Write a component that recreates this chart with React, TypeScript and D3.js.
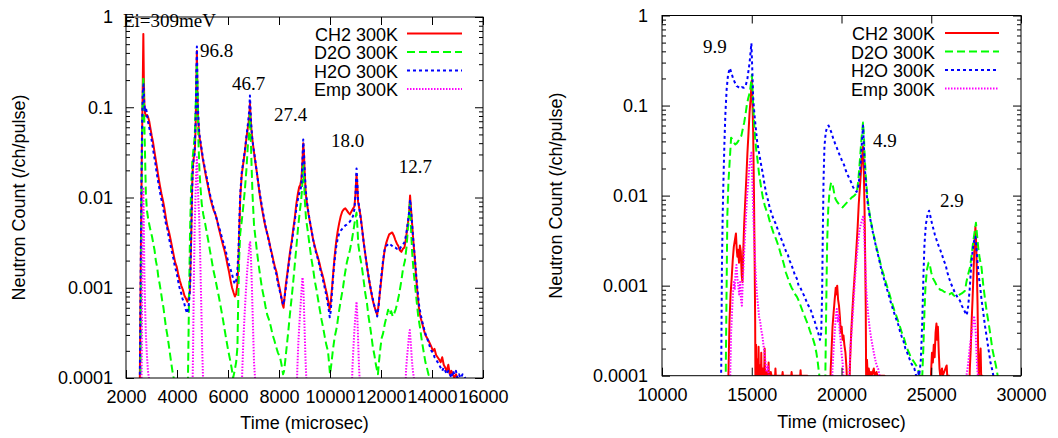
import { useRef, useEffect } from 'react';
import * as d3 from 'd3';

type Pt = [number, number];

// legend / series
const seriesNames = ['CH2 300K', 'D2O 300K', 'H2O 300K', 'Emp 300K'];
const seriesColors = ['#ff0000', '#00ff00', '#0000ff', '#ff00ff'];
const seriesDash = ['none', '8,4', '3,3', '1.5,1.5'];

// axes
const yTickValues = [1, 0.1, 0.01, 0.001, 0.0001];
const yTickLabels = ['1', '0.1', '0.01', '0.001', '0.0001'];
const leftXTicks = [2000, 4000, 6000, 8000, 10000, 12000, 14000, 16000];
const rightXTicks = [10000, 15000, 20000, 25000, 30000];

// ---- left panel (Ei = 309 meV chopper setting) ----
const leftCH2: Pt[] = [
  [2540, 0.00008], [2560, 0.0004], [2590, 0.004], [2620, 0.03], [2650, 0.12], [2680, 0.65], [2700, 0.2], [2720, 0.11],
  [2750, 0.085], [2790, 0.08], [2830, 0.082], [2870, 0.077], [2910, 0.07], [2960, 0.058], [3010, 0.048], [3060, 0.041],
  [3110, 0.033], [3160, 0.027], [3210, 0.022], [3270, 0.017], [3330, 0.0135], [3390, 0.011], [3450, 0.0092], [3510, 0.0075],
  [3570, 0.0058], [3630, 0.0047], [3690, 0.0041], [3750, 0.0034], [3810, 0.0028], [3870, 0.0023], [3930, 0.0019], [3990, 0.0017],
  [4050, 0.0014], [4110, 0.0012], [4170, 0.00105], [4230, 0.00095], [4290, 0.00082], [4350, 0.00076], [4410, 0.0007], [4460, 0.00078],
  [4500, 0.0009], [4530, 0.0018], [4560, 0.004], [4590, 0.012], [4620, 0.022], [4660, 0.028], [4700, 0.034], [4730, 0.06],
  [4760, 0.2], [4780, 0.42], [4800, 0.15], [4820, 0.085], [4850, 0.06], [4880, 0.047], [4920, 0.04], [4970, 0.032],
  [5020, 0.026], [5080, 0.021], [5140, 0.017], [5200, 0.014], [5260, 0.0115], [5320, 0.0095], [5380, 0.0082], [5440, 0.0072],
  [5500, 0.0066], [5560, 0.0058], [5620, 0.0048], [5680, 0.0041], [5740, 0.0035], [5800, 0.003], [5860, 0.0026], [5920, 0.0022],
  [5980, 0.0018], [6040, 0.0015], [6100, 0.0012], [6160, 0.001], [6220, 0.00088], [6270, 0.0008], [6320, 0.00085], [6370, 0.0011],
  [6410, 0.002], [6440, 0.004], [6480, 0.01], [6540, 0.018], [6600, 0.024], [6660, 0.032], [6720, 0.045], [6780, 0.06],
  [6830, 0.075], [6860, 0.11], [6880, 0.085], [6910, 0.06], [6950, 0.045], [7000, 0.035], [7060, 0.026], [7120, 0.02],
  [7180, 0.015], [7240, 0.011], [7300, 0.0085], [7360, 0.0068], [7420, 0.0055], [7480, 0.0046], [7540, 0.004], [7600, 0.0034],
  [7660, 0.0028], [7720, 0.0024], [7780, 0.002], [7840, 0.0017], [7900, 0.0015], [7960, 0.0012], [8020, 0.001], [8080, 0.00082],
  [8140, 0.00065], [8180, 0.0006], [8220, 0.0008], [8270, 0.0011], [8320, 0.0014], [8380, 0.0019], [8440, 0.0026], [8500, 0.0033],
  [8560, 0.0045], [8620, 0.006], [8680, 0.0085], [8740, 0.011], [8790, 0.013], [8840, 0.014], [8880, 0.016], [8920, 0.025],
  [8950, 0.04], [8980, 0.03], [9010, 0.018], [9050, 0.011], [9100, 0.0085], [9160, 0.0065], [9220, 0.0052], [9280, 0.0042],
  [9340, 0.0034], [9400, 0.0029], [9460, 0.0025], [9520, 0.0022], [9580, 0.0019], [9640, 0.0016], [9700, 0.0014], [9760, 0.0012],
  [9820, 0.001], [9880, 0.00085], [9940, 0.00068], [9990, 0.00057], [10030, 0.0007], [10080, 0.001], [10130, 0.0015], [10180, 0.0022],
  [10240, 0.0032], [10300, 0.0042], [10360, 0.0052], [10420, 0.0062], [10480, 0.007], [10540, 0.0074], [10600, 0.0076], [10660, 0.0072],
  [10720, 0.0068], [10780, 0.0065], [10840, 0.007], [10900, 0.0075], [10960, 0.008], [11000, 0.011], [11040, 0.018], [11070, 0.014],
  [11100, 0.009], [11150, 0.0075], [11200, 0.0062], [11260, 0.0045], [11320, 0.0032], [11380, 0.0024], [11440, 0.0018], [11500, 0.0014],
  [11560, 0.0011], [11620, 0.00088], [11680, 0.00072], [11740, 0.00062], [11800, 0.00055], [11850, 0.0005], [11900, 0.00062], [11960, 0.0009],
  [12020, 0.0013], [12080, 0.0019], [12140, 0.0026], [12200, 0.0031], [12260, 0.0035], [12320, 0.0039], [12380, 0.004], [12440, 0.0041],
  [12500, 0.0038], [12560, 0.0034], [12620, 0.0031], [12680, 0.0029], [12740, 0.0026], [12800, 0.0025], [12860, 0.0027], [12920, 0.0028],
  [12980, 0.0035], [13040, 0.0048], [13100, 0.0065], [13140, 0.0105], [13170, 0.008], [13210, 0.0055], [13260, 0.0035], [13320, 0.0022],
  [13380, 0.0013], [13440, 0.0008], [13500, 0.00055], [13560, 0.00046], [13620, 0.0004], [13680, 0.00034], [13740, 0.0003], [13800, 0.00028],
  [13860, 0.00026], [13920, 0.00024], [13980, 0.00022], [14040, 0.0002], [14100, 0.00021], [14160, 0.00018], [14220, 0.00017], [14280, 0.00016],
  [14340, 0.00015], [14400, 0.00017], [14460, 0.00014], [14520, 0.00013], [14580, 0.00012], [14640, 0.00014], [14700, 0.00011], [14760, 0.00012],
  [14820, 0.00011], [14880, 0.0001], [14940, 0.00011], [15000, 0.0001], [15100, 0.00009], [15300, 0.00008],
];

const leftD2O: Pt[] = [
  [2560, 0.00006], [2590, 0.001], [2620, 0.02], [2650, 0.1], [2680, 0.22], [2710, 0.09], [2740, 0.036], [2780, 0.011],
  [2820, 0.0072], [2870, 0.0058], [2920, 0.0049], [2970, 0.0042], [3020, 0.0037], [3070, 0.0031], [3120, 0.0026], [3170, 0.002],
  [3220, 0.0017], [3270, 0.0013], [3320, 0.0011], [3370, 0.0009], [3420, 0.00072], [3470, 0.0006], [3520, 0.00046], [3570, 0.00036],
  [3620, 0.0003], [3670, 0.00024], [3720, 0.00019], [3770, 0.00015], [3820, 0.00012], [3870, 0.0001], [3920, 0.00008], [3960, 0.00005],
  [4380, 0.00005], [4430, 0.0001], [4470, 0.0007], [4510, 0.004], [4550, 0.012], [4600, 0.025], [4650, 0.035], [4700, 0.05],
  [4740, 0.12], [4780, 0.3], [4810, 0.13], [4840, 0.043], [4880, 0.02], [4920, 0.013], [4970, 0.0085], [5030, 0.0065],
  [5100, 0.0052], [5160, 0.0042], [5220, 0.0034], [5290, 0.0026], [5350, 0.0021], [5420, 0.0016], [5490, 0.0013], [5570, 0.001],
  [5640, 0.0008], [5720, 0.0006], [5800, 0.00045], [5870, 0.00034], [5940, 0.00026], [6010, 0.0002], [6080, 0.00016], [6140, 0.00013],
  [6200, 0.0001], [6260, 0.00012], [6320, 0.00015], [6370, 0.00022], [6400, 0.0007], [6440, 0.0022], [6480, 0.004], [6540, 0.0055],
  [6600, 0.008], [6660, 0.012], [6720, 0.02], [6780, 0.038], [6820, 0.045], [6860, 0.086], [6890, 0.05], [6920, 0.025],
  [6960, 0.011], [7020, 0.005], [7080, 0.0035], [7130, 0.0026], [7200, 0.0018], [7270, 0.0013], [7330, 0.001], [7400, 0.0008],
  [7470, 0.00062], [7540, 0.0005], [7610, 0.00044], [7680, 0.00037], [7750, 0.0003], [7820, 0.00026], [7890, 0.00022], [7960, 0.00019],
  [8040, 0.00017], [8100, 0.00014], [8160, 0.00011], [8200, 0.00012], [8250, 0.00016], [8300, 0.00022], [8360, 0.00032], [8420, 0.00048],
  [8490, 0.00075], [8550, 0.0011], [8610, 0.0017], [8680, 0.0028], [8750, 0.0047], [8820, 0.0072], [8870, 0.0094], [8910, 0.013],
  [8950, 0.024], [8980, 0.016], [9010, 0.0095], [9060, 0.0058], [9140, 0.004], [9210, 0.0028], [9270, 0.0021], [9340, 0.0016],
  [9400, 0.0012], [9470, 0.00095], [9540, 0.00072], [9600, 0.00057], [9670, 0.00044], [9740, 0.00035], [9800, 0.00028], [9860, 0.00023],
  [9920, 0.0002], [9970, 0.00014], [10000, 0.00011], [10050, 0.00014], [10110, 0.0002], [10180, 0.00028], [10270, 0.00037], [10340, 0.00052],
  [10420, 0.00072], [10510, 0.001], [10580, 0.0014], [10660, 0.0019], [10730, 0.0023], [10780, 0.0026], [10860, 0.0034], [10930, 0.0045],
  [10980, 0.0056], [11040, 0.0068], [11070, 0.005], [11110, 0.003], [11180, 0.0022], [11250, 0.0017], [11320, 0.0012], [11380, 0.00088],
  [11450, 0.00067], [11510, 0.00048], [11580, 0.00036], [11640, 0.00027], [11680, 0.00022], [11740, 0.00018], [11800, 0.00014], [11850, 0.00012],
  [11880, 0.00011], [11920, 0.00015], [11980, 0.00022], [12030, 0.00028], [12080, 0.00031], [12150, 0.0004], [12220, 0.00048], [12280, 0.00057],
  [12340, 0.0005], [12400, 0.00055], [12460, 0.00048], [12520, 0.00052], [12580, 0.00058], [12640, 0.00068], [12700, 0.00082], [12740, 0.00095],
  [12800, 0.0012], [12860, 0.0016], [12940, 0.002], [13000, 0.0028], [13060, 0.0047], [13130, 0.0085], [13170, 0.005], [13220, 0.0025],
  [13280, 0.0015], [13330, 0.0011], [13400, 0.0007], [13460, 0.00048], [13525, 0.00037], [13600, 0.00026], [13680, 0.00019], [13740, 0.00015],
  [13800, 0.00013], [13860, 0.00011], [13920, 0.0001], [13960, 0.00007],
];

const leftH2O: Pt[] = [
  [2540, 0.00008], [2570, 0.001], [2600, 0.01], [2630, 0.06], [2660, 0.15], [2690, 0.18], [2710, 0.12], [2740, 0.09],
  [2780, 0.1], [2820, 0.085], [2860, 0.07], [2900, 0.062], [2950, 0.052], [3000, 0.044], [3050, 0.036], [3100, 0.029],
  [3150, 0.024], [3200, 0.019], [3260, 0.015], [3320, 0.012], [3380, 0.0098], [3440, 0.0082], [3500, 0.0065], [3560, 0.0052],
  [3620, 0.0045], [3680, 0.0036], [3740, 0.003], [3800, 0.0025], [3860, 0.0021], [3920, 0.0017], [3980, 0.0015], [4040, 0.0012],
  [4100, 0.001], [4160, 0.00088], [4220, 0.00075], [4280, 0.00068], [4340, 0.00058], [4400, 0.00052], [4450, 0.0006], [4490, 0.0008],
  [4520, 0.0011], [4550, 0.003], [4580, 0.008], [4610, 0.018], [4650, 0.026], [4690, 0.03], [4730, 0.07], [4760, 0.25],
  [4780, 0.47], [4800, 0.2], [4820, 0.1], [4850, 0.065], [4880, 0.05], [4920, 0.042], [4970, 0.034], [5020, 0.027],
  [5080, 0.022], [5140, 0.018], [5200, 0.015], [5260, 0.012], [5320, 0.01], [5380, 0.0088], [5440, 0.0075], [5500, 0.0066],
  [5560, 0.0057], [5620, 0.005], [5680, 0.0044], [5740, 0.0038], [5800, 0.0033], [5860, 0.0029], [5920, 0.0025], [5980, 0.0021],
  [6040, 0.0018], [6100, 0.0016], [6160, 0.0014], [6220, 0.0012], [6270, 0.0011], [6320, 0.0012], [6370, 0.0016], [6410, 0.0025],
  [6440, 0.005], [6480, 0.011], [6540, 0.019], [6600, 0.025], [6660, 0.033], [6720, 0.047], [6780, 0.065], [6830, 0.09],
  [6860, 0.135], [6880, 0.1], [6910, 0.065], [6950, 0.046], [7000, 0.035], [7060, 0.027], [7120, 0.02], [7180, 0.015],
  [7240, 0.0115], [7300, 0.009], [7360, 0.0072], [7420, 0.0058], [7480, 0.0047], [7540, 0.0039], [7600, 0.0033], [7660, 0.0028],
  [7720, 0.0023], [7780, 0.0019], [7840, 0.0016], [7900, 0.0014], [7960, 0.0011], [8020, 0.00095], [8080, 0.0008], [8140, 0.00068],
  [8180, 0.00065], [8220, 0.00078], [8270, 0.001], [8320, 0.0013], [8380, 0.0018], [8440, 0.0024], [8500, 0.0031], [8560, 0.0042],
  [8620, 0.0056], [8680, 0.0075], [8740, 0.0095], [8790, 0.011], [8840, 0.012], [8880, 0.014], [8920, 0.026], [8950, 0.044],
  [8980, 0.032], [9010, 0.019], [9050, 0.012], [9100, 0.0088], [9160, 0.0066], [9220, 0.0053], [9280, 0.0043], [9340, 0.0034],
  [9400, 0.0028], [9460, 0.0024], [9520, 0.0021], [9580, 0.0018], [9640, 0.0015], [9700, 0.0013], [9760, 0.0011], [9820, 0.00092],
  [9880, 0.00075], [9940, 0.0006], [9990, 0.00047], [10030, 0.00055], [10080, 0.0009], [10130, 0.0014], [10180, 0.002], [10240, 0.0028],
  [10300, 0.0035], [10360, 0.004], [10420, 0.0043], [10480, 0.0045], [10540, 0.0047], [10600, 0.0049], [10660, 0.005], [10720, 0.0052],
  [10780, 0.0054], [10840, 0.0058], [10900, 0.0062], [10960, 0.0075], [11000, 0.011], [11040, 0.021], [11070, 0.015], [11100, 0.0095],
  [11150, 0.0077], [11200, 0.006], [11260, 0.0044], [11320, 0.0032], [11380, 0.0024], [11440, 0.0018], [11500, 0.0014], [11560, 0.0011],
  [11620, 0.0009], [11680, 0.00075], [11740, 0.00063], [11800, 0.00055], [11850, 0.00048], [11900, 0.0006], [11960, 0.00095], [12020, 0.0014],
  [12080, 0.002], [12140, 0.0026], [12200, 0.0029], [12260, 0.003], [12320, 0.0031], [12380, 0.003], [12440, 0.0029], [12500, 0.0028],
  [12560, 0.0028], [12620, 0.0027], [12680, 0.0028], [12740, 0.0027], [12800, 0.0029], [12860, 0.003], [12920, 0.0032], [12980, 0.0038],
  [13040, 0.005], [13100, 0.0068], [13140, 0.0095], [13170, 0.0078], [13210, 0.0056], [13260, 0.0036], [13320, 0.0023], [13380, 0.0014],
  [13440, 0.0009], [13500, 0.00062], [13560, 0.0005], [13620, 0.00042], [13680, 0.00036], [13740, 0.00031], [13800, 0.00028], [13860, 0.00025],
  [13920, 0.00022], [13980, 0.0002], [14040, 0.00019], [14100, 0.00017], [14160, 0.00016], [14220, 0.00015], [14280, 0.00014], [14340, 0.00013],
  [14400, 0.00012], [14460, 0.00013], [14520, 0.00012], [14580, 0.00011], [14640, 0.00012], [14700, 0.00011], [14760, 0.0001], [14820, 0.00012],
  [14880, 0.00011], [14940, 0.00012], [15000, 0.0001], [15060, 0.00011], [15120, 0.0001], [15200, 0.00011], [15300, 0.0001], [15380, 0.00008],
];

const leftEmp: Pt[] = [
  [2600, 0.00005], [2620, 0.0002], [2640, 0.002], [2660, 0.008], [2680, 0.013], [2700, 0.005], [2720, 0.0015], [2750, 0.0006],
  [2780, 0.0003], [2820, 0.00018], [2860, 0.00012], [2900, 0.0001], [2920, 0.00005],
  [4600, 0.00005], [4630, 0.0002], [4660, 0.0012], [4690, 0.004], [4720, 0.009], [4750, 0.018], [4780, 0.028], [4810, 0.015],
  [4840, 0.009], [4870, 0.006], [4900, 0.003], [4930, 0.0012], [4960, 0.0005], [4990, 0.0002], [5020, 0.0001], [5040, 0.00005],
  [6520, 0.00005], [6560, 0.00012], [6600, 0.00025], [6650, 0.0005], [6700, 0.0009], [6750, 0.0015], [6800, 0.0022], [6840, 0.003],
  [6870, 0.0032], [6900, 0.0022], [6930, 0.0012], [6960, 0.0006], [6990, 0.0003], [7020, 0.00015], [7060, 0.0001], [7080, 0.00005],
  [8680, 0.00005], [8720, 0.00013], [8760, 0.00025], [8800, 0.0004], [8840, 0.0006], [8880, 0.0009], [8920, 0.0013], [8950, 0.0011],
  [8980, 0.0006], [9010, 0.0003], [9040, 0.00016], [9070, 0.0001], [9090, 0.00005],
  [10840, 0.00005], [10880, 0.00013], [10920, 0.00022], [10960, 0.00035], [11000, 0.0005], [11040, 0.0007], [11070, 0.0005], [11100, 0.00028],
  [11130, 0.00015], [11160, 0.0001], [11180, 0.00005],
  [12940, 0.00005], [12980, 0.00012], [13020, 0.00017], [13060, 0.00022], [13100, 0.0003], [13130, 0.00034], [13170, 0.00024], [13210, 0.00016],
  [13250, 0.00012], [13290, 0.0001], [13320, 0.00005],
];

// ---- right panel ----
const rightCH2: Pt[] = [
  [13650, 0.00005], [13700, 0.0001], [13760, 0.0004], [13820, 0.0008], [13880, 0.0012], [13940, 0.0019], [14000, 0.0027], [14060, 0.0032],
  [14120, 0.0038], [14160, 0.0026], [14200, 0.0021], [14240, 0.0025], [14290, 0.0018], [14340, 0.0028], [14390, 0.0024], [14440, 0.0013],
  [14480, 0.0011], [14530, 0.0025], [14580, 0.005], [14640, 0.009], [14700, 0.016], [14760, 0.03], [14820, 0.05], [14880, 0.085],
  [14940, 0.12], [15000, 0.19], [15040, 0.11], [15080, 0.05], [15120, 0.012], [15160, 0.002], [15190, 0.0004], [15210, 0.00005],
  [15240, 0.00022], [15270, 0.00005], [15310, 0.00015], [15340, 0.00005], [15380, 0.00021], [15410, 0.00005], [15450, 0.00013], [15490, 0.00005],
  [15530, 0.00018], [15570, 0.00005], [15620, 0.00012], [15660, 0.00005], [15720, 0.0002], [15760, 0.00005], [15820, 0.00011], [15860, 0.00005],
  [15940, 0.00014], [15980, 0.00005], [16060, 0.00011], [16100, 0.0001], [16300, 0.0001], [16320, 0.00012], [16340, 0.0001], [16700, 0.0001],
  [16720, 0.00011], [16740, 0.0001], [17200, 0.0001], [17220, 0.00011], [17240, 0.0001], [17700, 0.0001], [17720, 0.000115], [17740, 0.0001],
  [18100, 0.0001], [18140, 0.00005],
  [19350, 0.00005], [19400, 0.00012], [19450, 0.0002], [19500, 0.00035], [19560, 0.0005], [19620, 0.0007], [19680, 0.00095], [19720, 0.0008],
  [19760, 0.001], [19810, 0.0007], [19860, 0.0006], [19910, 0.00045], [19960, 0.0003], [20010, 0.00035], [20060, 0.00025], [20110, 0.00028],
  [20160, 0.00022], [20220, 0.00018], [20280, 0.00012], [20340, 0.00005], [20420, 0.00005], [20480, 0.00015], [20540, 0.0003], [20600, 0.0005],
  [20660, 0.0008], [20720, 0.0012], [20780, 0.0018], [20840, 0.0028], [20900, 0.0045], [20960, 0.008], [21020, 0.012], [21080, 0.018],
  [21140, 0.026], [21200, 0.035], [21240, 0.02], [21280, 0.008], [21320, 0.002], [21350, 0.0006], [21380, 0.00005], [21420, 0.00015],
  [21460, 0.0001], [21520, 0.00012], [21560, 0.0001], [21640, 0.00011], [21680, 0.0001], [21800, 0.00012], [21840, 0.0001], [21950, 0.00011],
  [22000, 0.0001], [22400, 0.0001], [22440, 0.00005],
  [24950, 0.00005], [24990, 0.00011], [25040, 0.00018], [25090, 0.00014], [25140, 0.00022], [25190, 0.00016], [25240, 0.0003], [25290, 0.00038],
  [25330, 0.00025], [25370, 0.00035], [25420, 0.00018], [25460, 0.00012], [25500, 0.0001], [25600, 0.00012], [25640, 0.0001], [25860, 0.00013],
  [25890, 0.0001], [26000, 0.0001], [26040, 0.00005],
  [27100, 0.00005], [27150, 0.00012], [27200, 0.0002], [27250, 0.0004], [27300, 0.0007], [27350, 0.0013], [27400, 0.0025], [27460, 0.0045],
  [27500, 0.003], [27540, 0.0015], [27580, 0.0006], [27620, 0.00015], [27650, 0.0001], [27750, 0.0002], [27780, 0.0001], [27850, 0.0001],
  [27880, 0.00005],
];

const rightD2O: Pt[] = [
  [13540, 0.00006], [13580, 0.0004], [13640, 0.006], [13700, 0.014], [13770, 0.024], [13850, 0.044], [13930, 0.042], [14000, 0.039],
  [14080, 0.037], [14160, 0.038], [14240, 0.04], [14320, 0.043], [14420, 0.046], [14500, 0.055], [14580, 0.065], [14650, 0.079],
  [14720, 0.1], [14800, 0.12], [14890, 0.14], [14960, 0.18], [15010, 0.22], [15060, 0.12], [15120, 0.07], [15180, 0.045],
  [15250, 0.032], [15310, 0.026], [15400, 0.018], [15480, 0.014], [15530, 0.012], [15620, 0.0095], [15720, 0.0078], [15820, 0.0068],
  [15910, 0.0061], [16000, 0.0052], [16100, 0.0045], [16200, 0.0039], [16300, 0.0035], [16400, 0.0031], [16500, 0.0027], [16600, 0.0023],
  [16700, 0.002], [16800, 0.0017], [16900, 0.0014], [17020, 0.0012], [17120, 0.00105], [17220, 0.00095], [17320, 0.00088], [17420, 0.0008],
  [17520, 0.00075], [17620, 0.00068], [17720, 0.0006], [17820, 0.00053], [17920, 0.00047], [18020, 0.00042], [18130, 0.00037], [18230, 0.00032],
  [18330, 0.00028], [18430, 0.00025], [18510, 0.00022], [18600, 0.00018], [18680, 0.00014], [18740, 0.00011], [18800, 0.00009], [18900, 0.00008],
  [19000, 0.00007], [19100, 0.0001], [19150, 0.0006], [19200, 0.003], [19260, 0.007], [19330, 0.011], [19420, 0.014], [19500, 0.0135],
  [19580, 0.011], [19660, 0.0092], [19760, 0.0085], [19860, 0.008], [19960, 0.0076], [20060, 0.0074], [20160, 0.0078], [20260, 0.0082],
  [20360, 0.0086], [20460, 0.009], [20560, 0.0095], [20660, 0.0098], [20760, 0.0102], [20860, 0.011], [20940, 0.015], [21020, 0.024],
  [21100, 0.04], [21200, 0.065], [21250, 0.045], [21300, 0.025], [21360, 0.016], [21420, 0.011], [21500, 0.0078], [21580, 0.006],
  [21660, 0.0049], [21760, 0.0039], [21860, 0.0032], [21960, 0.0026], [22060, 0.0022], [22160, 0.0018], [22260, 0.0015], [22360, 0.0013],
  [22460, 0.0011], [22560, 0.00095], [22660, 0.00082], [22760, 0.0007], [22860, 0.0006], [22960, 0.00052], [23060, 0.00046], [23160, 0.0004],
  [23260, 0.00035], [23360, 0.0003], [23460, 0.00027], [23560, 0.00023], [23660, 0.0002], [23760, 0.00018], [23860, 0.00016], [23960, 0.00015],
  [24060, 0.00014], [24160, 0.00013], [24260, 0.00012], [24360, 0.0001], [24440, 0.00009], [24500, 0.0001], [24560, 0.0002], [24620, 0.0005],
  [24680, 0.001], [24760, 0.0015], [24850, 0.0018], [24920, 0.0017], [25000, 0.0014], [25100, 0.0012], [25210, 0.0011], [25300, 0.001],
  [25400, 0.00095], [25500, 0.0009], [25600, 0.00089], [25700, 0.00086], [25800, 0.00084], [25900, 0.00082], [26000, 0.0008], [26150, 0.00083],
  [26250, 0.00078], [26350, 0.00076], [26490, 0.00077], [26600, 0.0008], [26700, 0.00082], [26800, 0.00085], [26880, 0.00088], [26960, 0.0011],
  [27040, 0.0013], [27160, 0.0016], [27250, 0.0022], [27330, 0.003], [27420, 0.004], [27490, 0.005], [27560, 0.0035], [27620, 0.0026],
  [27700, 0.002], [27800, 0.0016], [27900, 0.001], [28000, 0.0007], [28100, 0.0005], [28200, 0.00038], [28300, 0.00028], [28400, 0.0002],
  [28500, 0.00016], [28600, 0.00013], [28700, 0.0001], [28800, 0.00008],
];

const rightH2O: Pt[] = [
  [13250, 0.00005], [13300, 0.00012], [13340, 0.0017], [13380, 0.006], [13420, 0.014], [13480, 0.04], [13530, 0.08], [13600, 0.15],
  [13680, 0.22], [13780, 0.26], [13870, 0.23], [13960, 0.2], [14060, 0.18], [14160, 0.165], [14260, 0.16], [14360, 0.155],
  [14460, 0.16], [14560, 0.158], [14660, 0.165], [14760, 0.2], [14880, 0.3], [14980, 0.49], [15030, 0.25], [15080, 0.12],
  [15150, 0.08], [15230, 0.055], [15300, 0.04], [15380, 0.032], [15460, 0.026], [15540, 0.021], [15630, 0.017], [15720, 0.013],
  [15810, 0.0105], [15910, 0.0088], [16010, 0.0072], [16110, 0.0063], [16210, 0.0055], [16310, 0.005], [16410, 0.0044], [16510, 0.0039],
  [16610, 0.0034], [16710, 0.0031], [16810, 0.0027], [16910, 0.0024], [17010, 0.0022], [17110, 0.0019], [17210, 0.0017], [17310, 0.0015],
  [17410, 0.0013], [17510, 0.0012], [17610, 0.001], [17710, 0.00095], [17810, 0.00085], [17910, 0.00078], [18010, 0.0007], [18110, 0.00062],
  [18210, 0.00058], [18310, 0.00052], [18410, 0.00045], [18510, 0.0004], [18610, 0.00034], [18700, 0.0003], [18800, 0.00025], [18870, 0.0003],
  [18920, 0.0008], [18960, 0.004], [19000, 0.015], [19050, 0.035], [19120, 0.05], [19200, 0.058], [19280, 0.06], [19360, 0.055],
  [19440, 0.05], [19540, 0.043], [19640, 0.038], [19740, 0.034], [19840, 0.03], [19940, 0.027], [20040, 0.024], [20140, 0.022],
  [20240, 0.019], [20340, 0.017], [20440, 0.0155], [20540, 0.014], [20640, 0.0125], [20740, 0.0115], [20840, 0.011], [20920, 0.012],
  [21000, 0.016], [21080, 0.025], [21140, 0.04], [21200, 0.06], [21250, 0.035], [21300, 0.02], [21360, 0.014], [21420, 0.0095],
  [21500, 0.0072], [21580, 0.0058], [21660, 0.0048], [21760, 0.0038], [21860, 0.0031], [21960, 0.0025], [22060, 0.0021], [22160, 0.0017],
  [22260, 0.0014], [22360, 0.0012], [22460, 0.001], [22560, 0.00088], [22660, 0.00075], [22760, 0.00064], [22860, 0.00055], [22960, 0.00048],
  [23060, 0.00042], [23160, 0.00037], [23260, 0.00031], [23360, 0.00027], [23460, 0.00024], [23560, 0.0002], [23660, 0.00018], [23760, 0.00016],
  [23860, 0.00014], [23960, 0.00013], [24060, 0.00012], [24160, 0.0001], [24260, 0.00011], [24330, 0.0001], [24420, 0.00015], [24500, 0.0004],
  [24560, 0.0012], [24620, 0.0028], [24700, 0.0048], [24800, 0.0062], [24880, 0.0068], [24960, 0.0058], [25050, 0.0048], [25200, 0.0037],
  [25300, 0.0032], [25400, 0.0028], [25500, 0.0025], [25600, 0.0022], [25700, 0.0019], [25800, 0.0017], [25900, 0.0014], [26000, 0.0012],
  [26100, 0.00105], [26200, 0.00095], [26300, 0.00085], [26400, 0.00078], [26500, 0.00072], [26600, 0.00068], [26700, 0.0006], [26800, 0.00055],
  [26900, 0.0005], [26980, 0.00047], [27060, 0.0006], [27140, 0.0009], [27220, 0.0016], [27300, 0.0024], [27380, 0.0031], [27460, 0.0035],
  [27520, 0.0026], [27580, 0.0018], [27640, 0.0013], [27720, 0.001], [27800, 0.0007], [27900, 0.0005], [28000, 0.00035], [28100, 0.00026],
  [28200, 0.00019], [28300, 0.00014], [28380, 0.00012], [28460, 0.0001], [28520, 0.00007],
];

const rightEmp: Pt[] = [
  [13760, 0.00005], [13800, 0.0001], [13850, 0.0003], [13900, 0.0005], [13950, 0.0008], [14000, 0.0011], [14050, 0.0009], [14100, 0.0014],
  [14150, 0.0017], [14200, 0.0012], [14250, 0.001], [14300, 0.0008], [14350, 0.0011], [14400, 0.0007], [14450, 0.0006], [14500, 0.0011],
  [14560, 0.002], [14620, 0.0035], [14680, 0.006], [14740, 0.01], [14800, 0.014], [14860, 0.02], [14920, 0.026], [14980, 0.03],
  [15030, 0.015], [15080, 0.007], [15130, 0.0035], [15180, 0.002], [15230, 0.0012], [15290, 0.0008], [15350, 0.0006], [15410, 0.00045],
  [15470, 0.0004], [15530, 0.00032], [15590, 0.00028], [15650, 0.00022], [15710, 0.00018], [15770, 0.00014], [15830, 0.00011], [15890, 0.00013],
  [15950, 0.0001], [16010, 0.00005],
  [19450, 0.00005], [19500, 0.00012], [19560, 0.0002], [19620, 0.0003], [19680, 0.00045], [19740, 0.00055], [19800, 0.0004], [19850, 0.00048],
  [19900, 0.0003], [19950, 0.00025], [20000, 0.00018], [20060, 0.00014], [20110, 0.0001], [20150, 0.00005], [20400, 0.00005], [20450, 0.00012],
  [20500, 0.0002], [20560, 0.0003], [20620, 0.00045], [20680, 0.0007], [20740, 0.0011], [20800, 0.0016], [20860, 0.0022], [20920, 0.003],
  [20980, 0.0038], [21040, 0.0045], [21100, 0.005], [21160, 0.0055], [21220, 0.006], [21270, 0.0035], [21320, 0.0018], [21380, 0.0009],
  [21440, 0.0006], [21500, 0.00045], [21560, 0.00035], [21640, 0.00027], [21720, 0.00022], [21800, 0.00018], [21880, 0.00015], [21960, 0.00013],
  [22040, 0.00012], [22120, 0.0001], [22200, 0.00005],
  [26900, 0.00005], [26960, 0.0001], [27020, 0.00012], [27080, 0.00015], [27140, 0.0002], [27200, 0.00025], [27260, 0.0003], [27320, 0.00038],
  [27380, 0.00046], [27430, 0.0004], [27480, 0.0003], [27520, 0.00018], [27560, 0.00012], [27600, 0.0001], [27640, 0.00005],
];

// annotation labels, anchored in data coordinates [time, count]
const leftNotes: { t: number; v: number; text: string }[] = [
  { t: 1882, v: 0.765, text: 'Ei=309meV' },
  { t: 4900, v: 0.36, text: '96.8' },
  { t: 6155, v: 0.157, text: '46.7' },
  { t: 7800, v: 0.0704, text: '27.4' },
  { t: 10036, v: 0.0363, text: '18.0' },
  { t: 12700, v: 0.0187, text: '12.7' },
];
const rightNotes: { t: number; v: number; text: string }[] = [
  { t: 12284, v: 0.383, text: '9.9' },
  { t: 21755, v: 0.0347, text: '4.9' },
  { t: 25487, v: 0.00747, text: '2.9' },
];

const SANS = '"Liberation Sans", Arial, Helvetica, sans-serif';
const SERIF = '"Liberation Serif", "Times New Roman", serif';

interface PanelCfg {
  id: string;
  left: number;
  right: number;
  top: number;
  bottom: number;
  domain: [number, number];
  xTicks: number[];
  yLabelX: number;
  yLabelPad: number;
  xTickPad: number;
  xLabelY: number;
  legendTextX: number;
  legendLine: [number, number];
  legendBase: number;
}

function drawPanel(svg: d3.Selection<SVGSVGElement, unknown, null, undefined>, cfg: PanelCfg, series: Pt[][], notes: { t: number; v: number; text: string }[]) {
  const x = d3.scaleLinear().domain(cfg.domain).range([cfg.left, cfg.right]);
  const y = d3.scaleLog().domain([0.0001, 1]).range([cfg.bottom, cfg.top]);
  const minorY = d3.range(-4, 0).flatMap((e) => d3.range(2, 10).map((k) => k * Math.pow(10, e)));

  const g = svg.append('g');
  const clipId = `clip-${cfg.id}`;
  g.append('clipPath')
    .attr('id', clipId)
    .append('rect')
    .attr('x', cfg.left)
    .attr('y', cfg.top)
    .attr('width', cfg.right - cfg.left)
    .attr('height', cfg.bottom - cfg.top);

  // curves
  const line = d3
    .line<Pt>()
    .x((d) => x(d[0]))
    .y((d) => y(d[1]));
  const curves = g.append('g').attr('clip-path', `url(#${clipId})`);
  series.forEach((s, i) => {
    curves
      .append('path')
      .datum(s)
      .attr('d', line)
      .attr('fill', 'none')
      .attr('stroke', seriesColors[i])
      .attr('stroke-width', 2)
      .attr('stroke-linejoin', 'round')
      .attr('stroke-dasharray', seriesDash[i]);
  });

  // axes, gnuplot style: ticks inward on all four sides
  const styleAxis = (sel: d3.Selection<SVGGElement, unknown, null, undefined>) => {
    sel.select('.domain').remove();
    sel.attr('font-size', 18).attr('font-family', SANS);
  };
  g.append('g')
    .attr('transform', `translate(0,${cfg.bottom})`)
    .call(d3.axisBottom(x).tickValues(cfg.xTicks).tickSize(-8).tickPadding(cfg.xTickPad).tickFormat(d3.format('d')))
    .call(styleAxis);
  g.append('g')
    .attr('transform', `translate(0,${cfg.top})`)
    .call(d3.axisTop(x).tickValues(cfg.xTicks).tickSize(-8).tickFormat(() => ''))
    .call(styleAxis);
  g.append('g')
    .attr('transform', `translate(${cfg.left},0)`)
    .call(
      d3
        .axisLeft(y)
        .tickValues(yTickValues)
        .tickSize(-8)
        .tickPadding(cfg.yLabelPad)
        .tickFormat((_, i) => yTickLabels[i])
    )
    .call(styleAxis);
  g.append('g')
    .attr('transform', `translate(${cfg.left},0)`)
    .call(d3.axisLeft(y).tickValues(minorY).tickSize(-4).tickFormat(() => ''))
    .call(styleAxis);
  g.append('g')
    .attr('transform', `translate(${cfg.right},0)`)
    .call(d3.axisRight(y).tickValues(yTickValues).tickSize(-8).tickFormat(() => ''))
    .call(styleAxis);
  g.append('g')
    .attr('transform', `translate(${cfg.right},0)`)
    .call(d3.axisRight(y).tickValues(minorY).tickSize(-4).tickFormat(() => ''))
    .call(styleAxis);

  g.append('rect')
    .attr('x', cfg.left)
    .attr('y', cfg.top)
    .attr('width', cfg.right - cfg.left)
    .attr('height', cfg.bottom - cfg.top)
    .attr('fill', 'none')
    .attr('stroke', '#000')
    .attr('stroke-width', 1);

  // axis titles
  g.append('text')
    .attr('transform', `translate(${cfg.yLabelX},${(cfg.top + cfg.bottom) / 2}) rotate(-90)`)
    .attr('text-anchor', 'middle')
    .attr('font-family', SANS)
    .attr('font-size', 18)
    .text('Neutron Count (/ch/pulse)');
  g.append('text')
    .attr('x', (cfg.left + cfg.right) / 2)
    .attr('y', cfg.xLabelY)
    .attr('text-anchor', 'middle')
    .attr('font-family', SANS)
    .attr('font-size', 18)
    .text('Time (microsec)');

  // legend
  const legend = g.append('g');
  seriesNames.forEach((name, i) => {
    const base = cfg.legendBase + i * 18.5;
    legend
      .append('text')
      .attr('x', cfg.legendTextX)
      .attr('y', base)
      .attr('text-anchor', 'end')
      .attr('font-family', SANS)
      .attr('font-size', 18)
      .text(name);
    legend
      .append('line')
      .attr('x1', cfg.legendLine[0])
      .attr('x2', cfg.legendLine[1])
      .attr('y1', base - 7)
      .attr('y2', base - 7)
      .attr('stroke', seriesColors[i])
      .attr('stroke-width', 2)
      .attr('stroke-dasharray', seriesDash[i]);
  });

  // energy labels
  g.append('g')
    .selectAll('text')
    .data(notes)
    .join('text')
    .attr('x', (d) => x(d.t))
    .attr('y', (d) => y(d.v))
    .attr('font-family', SERIF)
    .attr('font-size', 19)
    .text((d) => d.text);
}

export default function App() {
  const svgRef = useRef<SVGSVGElement>(null);

  useEffect(() => {
    const svg = d3.select(svgRef.current as SVGSVGElement);
    svg.selectAll('*').remove();

    drawPanel(
      svg,
      {
        id: 'left',
        left: 126,
        right: 483,
        top: 17,
        bottom: 378,
        domain: [2000, 16000],
        xTicks: leftXTicks,
        yLabelX: 25,
        yLabelPad: 13,
        xTickPad: 12,
        xLabelY: 429,
        legendTextX: 398,
        legendLine: [407, 462],
        legendBase: 40.5,
      },
      [leftCH2, leftD2O, leftH2O, leftEmp],
      leftNotes
    );

    drawPanel(
      svg,
      {
        id: 'right',
        left: 662,
        right: 1021,
        top: 15.5,
        bottom: 375.7,
        domain: [10000, 30000],
        xTicks: rightXTicks,
        yLabelX: 562,
        yLabelPad: 14,
        xTickPad: 13,
        xLabelY: 428,
        legendTextX: 935,
        legendLine: [945, 999],
        legendBase: 40,
      },
      [rightCH2, rightD2O, rightH2O, rightEmp],
      rightNotes
    );
  }, []);

  return (
    <svg
      ref={svgRef}
      width={1058}
      height={438}
      style={{ position: 'absolute', left: 0, top: 0, background: '#fff' }}
    />
  );
}
